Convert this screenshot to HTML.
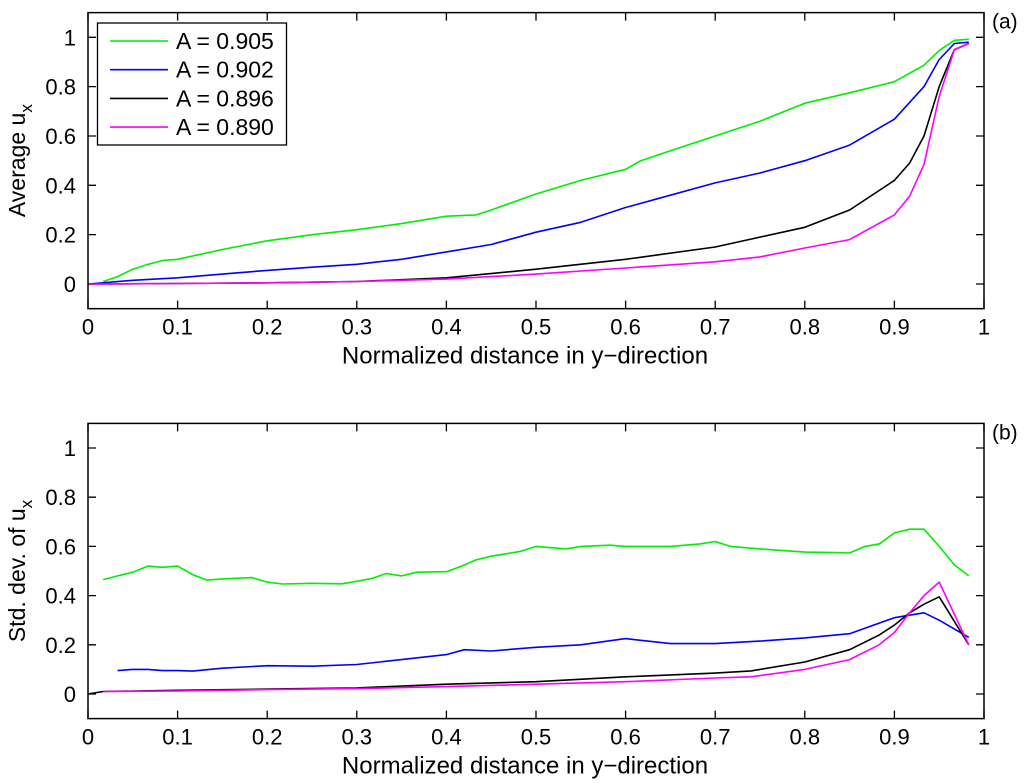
<!DOCTYPE html>
<html><head><meta charset="utf-8">
<style>
html,body{margin:0;padding:0;background:#fff;}
svg{display:block;font-family:"Liberation Sans",Arial,sans-serif;}
</style></head>
<body>
<svg id="chart" width="1024" height="783" viewBox="0 0 1024 783" xmlns="http://www.w3.org/2000/svg"></svg>
<script>
const xTicks=[0,0.1,0.2,0.3,0.4,0.5,0.6,0.7,0.8,0.9,1];
const xTickLabels=["0","0.1","0.2","0.3","0.4","0.5","0.6","0.7","0.8","0.9","1"];
const yTicks=[0,0.2,0.4,0.6,0.8,1];
const yTickLabels=["0","0.2","0.4","0.6","0.8","1"];
const seriesNames=["A = 0.905","A = 0.902","A = 0.896","A = 0.890"];
const seriesColors=["#00ee00","#0000ff","#000000","#ff00ff"];
// top panel (a): average u_x
const aGreenX=[0.017,0.033,0.05,0.067,0.083,0.1,0.15,0.2,0.25,0.3,0.35,0.4,0.433,0.45,0.5,0.55,0.6,0.617,0.65,0.7,0.75,0.8,0.85,0.9,0.933,0.95,0.967,0.983];
const aGreenY=[0.01,0.03,0.06,0.08,0.095,0.1,0.14,0.175,0.2,0.22,0.245,0.275,0.28,0.3,0.365,0.42,0.465,0.5,0.54,0.6,0.66,0.733,0.775,0.82,0.887,0.947,0.988,0.992];
const aBlueX=[0,0.05,0.1,0.15,0.2,0.25,0.3,0.35,0.4,0.45,0.5,0.55,0.6,0.65,0.7,0.75,0.8,0.85,0.9,0.933,0.95,0.967,0.983];
const aBlueY=[0,0.015,0.025,0.04,0.055,0.068,0.08,0.1,0.13,0.16,0.21,0.25,0.31,0.36,0.41,0.45,0.5,0.563,0.668,0.8,0.91,0.975,0.98];
const aBlackX=[0,0.1,0.2,0.3,0.4,0.5,0.6,0.7,0.75,0.8,0.85,0.9,0.917,0.933,0.95,0.967,0.983];
const aBlackY=[0,0.002,0.005,0.01,0.025,0.06,0.1,0.15,0.19,0.23,0.3,0.42,0.49,0.6,0.8,0.95,0.975];
const aMagX=[0,0.1,0.2,0.3,0.4,0.5,0.6,0.7,0.75,0.8,0.85,0.9,0.917,0.933,0.95,0.967,0.983];
const aMagY=[0,0.002,0.005,0.01,0.02,0.04,0.065,0.09,0.11,0.146,0.18,0.28,0.356,0.485,0.76,0.95,0.975];
// bottom panel (b): std dev of u_x
const bGreenX=[0.017,0.033,0.05,0.067,0.083,0.1,0.117,0.133,0.15,0.183,0.2,0.217,0.25,0.283,0.3,0.317,0.333,0.35,0.367,0.4,0.417,0.433,0.45,0.483,0.5,0.533,0.55,0.583,0.6,0.65,0.683,0.7,0.717,0.75,0.8,0.833,0.85,0.867,0.883,0.9,0.917,0.933,0.95,0.967,0.983];
const bGreenY=[0.465,0.48,0.495,0.52,0.515,0.52,0.485,0.463,0.468,0.473,0.455,0.447,0.45,0.448,0.458,0.47,0.49,0.48,0.495,0.497,0.52,0.545,0.56,0.58,0.6,0.59,0.6,0.605,0.6,0.6,0.61,0.62,0.6,0.59,0.577,0.575,0.573,0.6,0.61,0.655,0.67,0.67,0.6,0.525,0.48];
const bBlueX=[0.033,0.05,0.067,0.083,0.1,0.117,0.15,0.2,0.25,0.3,0.35,0.4,0.42,0.45,0.5,0.55,0.6,0.65,0.7,0.75,0.8,0.85,0.9,0.933,0.95,0.983];
const bBlueY=[0.095,0.1,0.1,0.095,0.095,0.093,0.105,0.115,0.113,0.12,0.14,0.16,0.18,0.175,0.19,0.2,0.225,0.205,0.205,0.215,0.228,0.245,0.31,0.33,0.3,0.23];
const bBlackX=[0,0.017,0.1,0.2,0.3,0.4,0.5,0.6,0.7,0.74,0.8,0.85,0.883,0.9,0.917,0.933,0.95,0.983];
const bBlackY=[0,0.01,0.015,0.02,0.025,0.04,0.05,0.07,0.085,0.094,0.13,0.18,0.24,0.28,0.33,0.365,0.395,0.2];
const bMagX=[0.017,0.1,0.2,0.3,0.4,0.5,0.6,0.7,0.74,0.8,0.85,0.883,0.9,0.917,0.933,0.95,0.983];
const bMagY=[0.01,0.012,0.018,0.022,0.03,0.04,0.05,0.065,0.07,0.1,0.14,0.2,0.25,0.33,0.4,0.455,0.2];

const NS="http://www.w3.org/2000/svg";
const svg=document.getElementById('chart');
function mk(tag,attrs,parent){const e=document.createElementNS(NS,tag);for(const k in attrs)e.setAttribute(k,attrs[k]);(parent||svg).appendChild(e);return e;}

function panel(cfg){
  const g=mk('g',{});
  
  
  const X0=88,X1=984;
  const sx=v=>X0+(X1-X0)*v;
  const sy=v=>cfg.y0-(cfg.y0-cfg.y1)*v;
  const top=sy(1.1),bot=sy(-0.1);
  xTicks.forEach((t,i)=>{
    const x=sx(t);
    const tk=mk('path',{d:`M${x},${bot}V${bot-8}M${x},${top}V${top+8}`,stroke:'#000','stroke-width':1.3},g);
    
    
    const tl=mk('text',{x:x,y:bot+26,'text-anchor':'middle','font-size':22},g);
    tl.textContent=xTickLabels[i];
    
    
  });
  yTicks.forEach((t,i)=>{
    const y=sy(t);
    const tk=mk('path',{d:`M${X0},${y}H${X0+8}M${X1},${y}H${X1-8}`,stroke:'#000','stroke-width':1.3},g);
    
    
    const tl=mk('text',{x:X0-12,y:y+8,'text-anchor':'end','font-size':22},g);
    tl.textContent=yTickLabels[i];
    
    
  });
  cfg.series.forEach((s,i)=>{
    const d=s[0].map((x,j)=>(j?'L':'M')+sx(x).toFixed(1)+','+sy(s[1][j]).toFixed(1)).join('');
    const p=mk('path',{d:d,fill:'none',stroke:seriesColors[i],'stroke-width':1.6,'stroke-linejoin':'round'},g);
    
    
  });
  const box=mk('rect',{x:X0,y:top,width:X1-X0,height:bot-top,fill:'none',stroke:'#000','stroke-width':1.5},g);
  
  
  const xl=mk('text',{x:525,y:bot+55,'text-anchor':'middle','font-size':24},g);
  xl.textContent='Normalized distance in y\u2212direction';
  
  
  const yl=mk('text',{transform:`translate(25,${(top+bot)/2}) rotate(-90)`,'text-anchor':'middle','font-size':23},g);
  yl.innerHTML=cfg.ylabel+'<tspan dy="7" font-size="17">x</tspan>';
  
  
  const pl=mk('text',{x:992,y:top+16,'font-size':21},g);
  pl.textContent=cfg.tag;
  
  
  return g;
}

panel({name:'panel-a',y0:284,y1:37.3,ylabel:'Average u',tag:'(a)',
  series:[[aGreenX,aGreenY],[aBlueX,aBlueY],[aBlackX,aBlackY],[aMagX,aMagY]]});
panel({name:'panel-b',y0:694,y1:448,ylabel:'Std. dev. of u',tag:'(b)',
  series:[[bGreenX,bGreenY],[bBlueX,bBlueY],[bBlackX,bBlackY],[bMagX,bMagY]]});

const lg=mk('g',{});


const lr=mk('rect',{x:97.5,y:23,width:189,height:122,fill:'#fff',stroke:'#000','stroke-width':1.3},lg);


seriesNames.forEach((n,i)=>{
  const y=41+i*28.7;
  const e=mk('g',{},lg);
  
  
  mk('line',{x1:110,x2:168,y1:y,y2:y,stroke:seriesColors[i],'stroke-width':1.6},e);
  const t=mk('text',{x:176,y:y+8,'font-size':23},e);
  t.textContent=n;
});
</script>
</body></html>
